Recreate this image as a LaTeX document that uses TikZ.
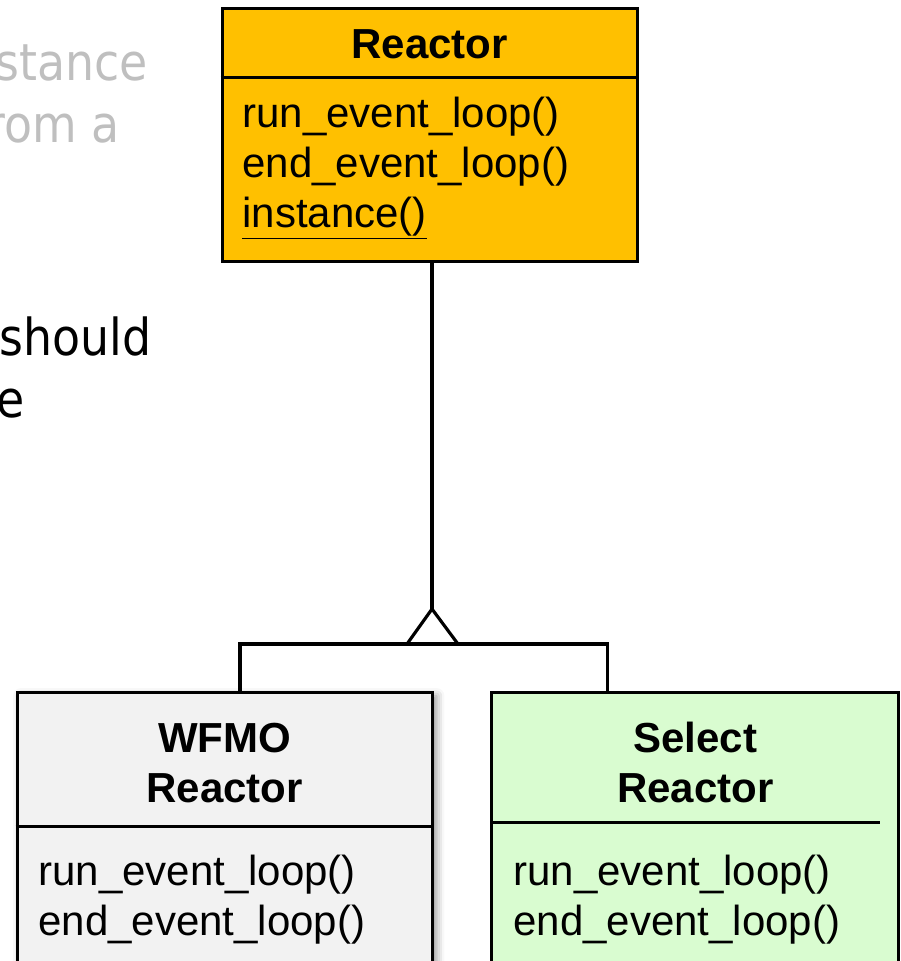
\documentclass[tikz,border=0pt]{standalone}
\usepackage{fontspec}
\setmainfont{Liberation Sans}
\newfontfamily\slidefont{DejaVu Sans}[FakeStretch=0.9]
\usetikzlibrary{shadows.blur}

\definecolor{reactorfill}{RGB}{255,192,0}
\definecolor{wfmofill}{RGB}{242,242,242}
\definecolor{selectfill}{RGB}{217,252,208}
\definecolor{slidegray}{RGB}{191,191,191}

\tikzset{
	classbox/.style={draw, line width=1.7pt, inner sep=0pt},
	classname/.style={font=\fontsize{23.9}{28.5}\selectfont\bfseries, anchor=base, inner sep=0pt},
	op/.style={font=\fontsize{23.9}{28.5}\selectfont, anchor=base west, inner sep=0pt},
	slidetext/.style={font=\slidefont\fontsize{29}{35}\selectfont, anchor=base east, inner sep=0pt},
	link/.style={line width=1.8pt}
}

\begin{document}
\begin{tikzpicture}[x=0.02cm, y=-0.02cm]
		\useasboundingbox (0,0) rectangle (901,961);
		\clip (0,0) rectangle (901,961);
		% slide text behind the diagram
		\node[slidetext, text=slidegray] (ghostA) at (148,80) {stance};
		\node[slidetext, text=slidegray] (ghostB) at (120,142) {rom a};
		\node[slidetext] (noteA) at (152,355) {should};
		\node[slidetext] (noteB) at (25,417) {e};
		% base class
		\node[classbox, fill=reactorfill, minimum width=8.31cm, minimum height=5.08cm] (reactor) at (429.75,135) {};
		\draw[line width=1.7pt] ([yshift=-1.42cm]reactor.north west) -- ([yshift=-1.42cm]reactor.north east);
		\node[classname] (reactorname) at (429.75,58) {Reactor};
		\node[op] (reactorrun) at (242,127) {run\_event\_loop()};
		\node[op] (reactorend) at (242,177) {end\_event\_loop()};
		\node[op] (reactorinst) at (242,227) {\underline{instance()}};
		% subclasses
		\node[classbox, fill=wfmofill, minimum width=8.31cm, minimum height=6.4cm,
			blur shadow={shadow xshift=0.08cm, shadow yshift=-0.08cm, shadow blur radius=0.16cm, shadow opacity=45}] (wfmo) at (224.75,852) {};
		\draw[line width=1.7pt] ([yshift=-2.72cm]wfmo.north west) -- ([yshift=-2.72cm]wfmo.north east);
		\node[classname] (wfmoname) at (224.75,752) {WFMO};
		\node[classname] (wfmoname2) at (224.75,802) {Reactor};
		\node[op] (wfmorun) at (38,885) {run\_event\_loop()};
		\node[op] (wfmoend) at (38,935) {end\_event\_loop()};
		\node[classbox, fill=selectfill, minimum width=8.15cm, minimum height=6.4cm] (select) at (695.25,852) {};
		\draw[line width=1.7pt] ([yshift=-2.64cm]select.north west) -- ([yshift=-2.64cm,xshift=-0.4cm]select.north east);
		\node[classname] (selectname) at (695.25,752) {Select};
		\node[classname] (selectname2) at (695.25,802) {Reactor};
		\node[op] (selectrun) at (513,885) {run\_event\_loop()};
		\node[op] (selectend) at (513,935) {end\_event\_loop()};
		% generalization
		\coordinate (apex) at (432,609);
		\coordinate (hub) at (432,644);
		\coordinate (lj) at (240,644);
		\coordinate (rj) at (607.5,644);
		\draw[link] (reactor.south -| apex) -- (apex);
		\draw[link, line join=miter] (apex) -- ([xshift=-0.5cm]hub) -- ([xshift=0.52cm]hub) -- cycle;
		\draw[link] (wfmo.north -| lj) -- (lj) -- (rj) -- (select.north -| rj);
	\end{tikzpicture}
\end{document}
